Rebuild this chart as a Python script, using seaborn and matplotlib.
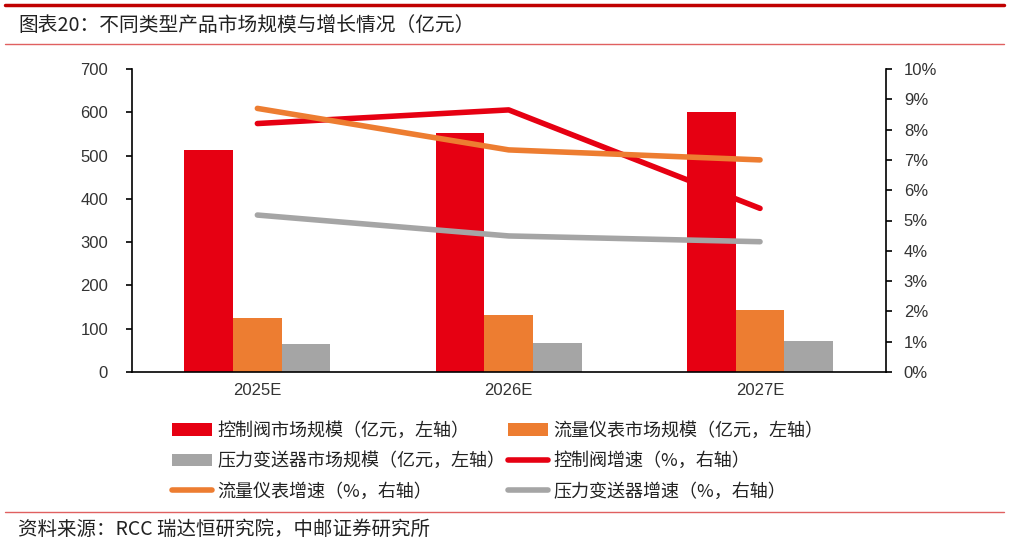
import numpy as np
import pandas as pd
import matplotlib
matplotlib.use("Agg")
import matplotlib.pyplot as plt
import seaborn as sns
from matplotlib.patches import Patch
from matplotlib.lines import Line2D
from matplotlib.ticker import FuncFormatter, MultipleLocator

# ---------------- data ----------------
years = ["2025E", "2026E", "2027E"]
valve_size = [512, 552, 601]
flow_size = [124, 132, 143]
pressure_size = [64, 67, 71]
valve_growth = [8.2, 8.65, 5.4]
flow_growth = [8.7, 7.33, 7.0]
pressure_growth = [5.18, 4.49, 4.3]

bar_labels = ["控制阀市场规模（亿元，左轴）", "流量仪表市场规模（亿元，左轴）", "压力变送器市场规模（亿元，左轴）"]
line_labels = ["控制阀增速（%，右轴）", "流量仪表增速（%，右轴）", "压力变送器增速（%，右轴）"]
colors = ["#E60012", "#ED7D31", "#A5A5A5"]

title = "图表20：不同类型产品市场规模与增长情况（亿元）"
source = "资料来源：RCC 瑞达恒研究院，中邮证券研究所"

# ---------------- frames ----------------
df_bar = pd.DataFrame({
    "year": years * 3,
    "value": valve_size + flow_size + pressure_size,
    "series": [bar_labels[0]] * 3 + [bar_labels[1]] * 3 + [bar_labels[2]] * 3,
})
df_line = pd.DataFrame({
    "idx": list(range(3)) * 3,
    "value": valve_growth + flow_growth + pressure_growth,
    "series": [line_labels[0]] * 3 + [line_labels[1]] * 3 + [line_labels[2]] * 3,
})

sns.set_theme(style="white")
plt.rcParams['font.family'] = ['Liberation Sans', 'Noto Sans CJK SC', 'DejaVu Sans']
plt.rcParams['lines.solid_capstyle'] = 'round'

W, H = 1009, 546
fig = plt.figure(figsize=(W / 100, H / 100), dpi=100)
ax = fig.add_axes([131.7 / W, 1 - 372 / H, (885.7 - 131.7) / W, (372 - 69) / H])

sns.barplot(data=df_bar, x="year", y="value", hue="series", hue_order=bar_labels,
            palette=colors, width=0.58, saturation=1, legend=False,
            edgecolor="none", linewidth=0, ax=ax)
ax.set_xlim(-0.5, 2.5)
ax.set_ylim(0, 700)
ax.yaxis.set_major_locator(MultipleLocator(100))
ax.set_xlabel("")
ax.set_ylabel("")

ax2 = ax.twinx()
sns.lineplot(data=df_line, x="idx", y="value", hue="series", hue_order=line_labels,
             palette=colors, linewidth=4, sort=False, legend=False, ax=ax2)
ax2.set_xlim(-0.5, 2.5)
ax2.set_ylim(0, 10)
ax2.yaxis.set_major_locator(MultipleLocator(1))
ax2.yaxis.set_major_formatter(FuncFormatter(lambda v, p: f"{v:.0f}%"))
ax2.set_xlabel("")
ax2.set_ylabel("")

for s in ["top", "right"]:
    ax.spines[s].set_visible(False)
for s in ["top", "left", "bottom"]:
    ax2.spines[s].set_visible(False)
for s in ["left", "bottom"]:
    ax.spines[s].set_color("black")
    ax.spines[s].set_linewidth(1.2)
ax2.spines["right"].set_color("black")
ax2.spines["right"].set_linewidth(1.2)

tick_color = "#333333"
ax.tick_params(axis="y", left=True, direction="out", length=4, width=1.2,
               color="black", pad=13, labelsize=12, labelcolor=tick_color)
ax.tick_params(axis="x", bottom=False, length=0, pad=8, labelsize=12, labelcolor=tick_color)
ax2.tick_params(axis="y", right=True, direction="out", length=4, width=1.2,
                color="black", pad=9, labelsize=12, labelcolor=tick_color)
ax2.tick_params(axis="x", bottom=False, labelbottom=False)

# ---------------- legend ----------------
bar_handles = [Patch(facecolor=c, edgecolor="none") for c in colors]
line_handles = [Line2D([], [], color=c, linewidth=4) for c in colors]
all_h = bar_handles + line_handles
all_l = bar_labels + line_labels
order = [0, 2, 4, 1, 3, 5]
leg = fig.legend([all_h[i] for i in order], [all_l[i] for i in order],
                 loc="upper left", bbox_to_anchor=(172 / W, 1 - 422 / H),
                 ncol=2, frameon=False, borderpad=0, borderaxespad=0,
                 handlelength=2.2, handleheight=0.7, handletextpad=0.3,
                 columnspacing=0.15, labelspacing=0.68,
                 prop={"family": ["Noto Sans CJK SC", "DejaVu Sans"], "size": 13})
for t in leg.get_texts():
    t.set_color("#222222")

# ---------------- title / source ----------------
fig.add_artist(Line2D([5 / W, 1004 / W], [1 - 5 / H] * 2, color="#C00000", linewidth=2.5))
fig.add_artist(Line2D([5 / W, 1004 / W], [1 - 44 / H] * 2, color="#E06060", linewidth=1))
fig.add_artist(Line2D([5 / W, 1004 / W], [1 - 512 / H] * 2, color="#E06060", linewidth=1))
fig.text(18 / W, 1 - 25 / H, title, ha="left", va="center", fontsize=14.2, color="#222222",
         family=["Noto Sans CJK SC", "DejaVu Sans"])
fig.text(18 / W, 1 - 529 / H, source, ha="left", va="center", fontsize=14, color="#222222",
         family=["Noto Sans CJK SC", "DejaVu Sans"])

fig.savefig("out.png", dpi=100)
